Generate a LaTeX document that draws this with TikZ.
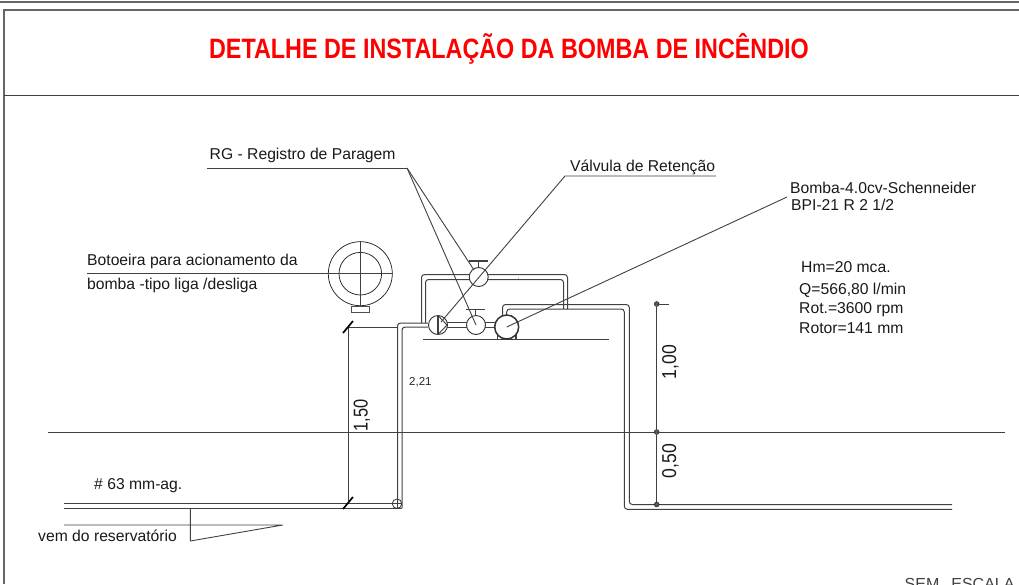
\documentclass[tikz,border=0pt]{standalone}
\usepackage{fontspec}
\setmainfont{Liberation Sans}
\begin{document}
\begin{tikzpicture}[x=1pt,y=-1pt,
  thinln/.style={line width=0.9pt,black!75},
  pipe/.style={line width=1pt,black!75,rounded corners=3pt},
  frameln/.style={line width=1.1pt,black!60},
  lab/.style={inner sep=0pt,anchor=base west,text=black!90,font=\fontsize{15.7}{17}\selectfont},
  dimtxt/.style={inner sep=0pt,rotate=90,anchor=base,text=black!90,font=\fontsize{20}{21}\selectfont},
  valve/.style={circle,draw=black!80,line width=0.9pt,fill=white,inner sep=0pt,minimum size=19pt},
  dimdot/.style={circle,fill=black!65,draw=black,line width=0.3pt,inner sep=0pt,minimum size=5pt},
]
\path[use as bounding box] (0,0) rectangle (1019,584);
\clip (0,0) rectangle (1019,584);
% frame
\draw[frameln,line width=1.4pt] (0,2) -- (1019,2);
\draw[frameln] (1019,10) -- (4,10) -- (4,584);
\draw[line width=1pt,black!75] (4,95.5) -- (1019,95.5);
\node[inner sep=0pt,text=red,font=\bfseries\fontsize{28}{30}\selectfont] (title) at (509,49) {\scalebox{.834}[1]{DETALHE DE INSTALAÇÃO DA BOMBA DE INCÊNDIO}};

% ground
\coordinate (gl) at (48,432); \coordinate (gr) at (1005,432);
\draw[thinln] (gl) -- (gr);

% suction
\draw[pipe] (64,503.5) -- (397.5,503.5);
\draw[pipe] (64,508) -- (402,508);
\draw[pipe] (402,508) -- (402,327) -- (428,327);
\draw[pipe] (397.5,503.5) -- (397.5,323) -- (428,323);
\node[circle,draw=black!80,line width=0.8pt,minimum size=9.5pt,inner sep=0pt] (elbow) at (397,503.7) {};
\draw[thinln] (elbow.west) -- (elbow.east) (elbow.north) -- (elbow.south);

% bypass
\draw[pipe] (421.5,323) -- (421.5,274.5) -- (567.5,274.5) -- (567.5,309);
\draw[pipe] (425.5,323) -- (425.5,279.5) -- (563.5,279.5) -- (563.5,309);
\fill[black!60] (518.6,278) circle (0.6pt);
% discharge
\draw[pipe] (502.5,318) -- (502.5,304.5) -- (629.3,304.5) -- (629.3,504.5) -- (952,504.5);
\draw[pipe] (506.7,318) -- (506.7,309) -- (624.3,309) -- (624.3,509.3) -- (952,509.3);
% between valves
\draw[pipe] (445,322.7) -- (497,322.7) (445,327.3) -- (497,327.3);
% base
\coordinate (bl) at (423,339.5); \coordinate (br) at (609,339.5);
\draw[thinln] (bl) -- (br);
% valves
\node[valve] (vtop) at (478.7,277) {};
\draw[thinln,line width=1.1pt] (478.7,267) -- (478.7,261.5);
\draw[thinln,line width=1.5pt] (469.3,261) -- (488,261);
\node[valve] (vcheck) at (438,325) {};
\draw[thinln,line width=1.1pt] (438,315.5) -- (438,334.5);
\draw[thinln] (438,315.5) -- (447,325) -- (438,334.5);
\node[valve] (vgate) at (476,325) {};
\draw[thinln,line width=1.1pt] (475.5,315) -- (475.5,310);
\draw[thinln,line width=1.5pt] (466,309.7) -- (485,309.7);
\draw[thinln,line width=1.1pt] (497.5,333) -- (497.5,339.5) (516,333) -- (516,339.5);
\node[valve,minimum size=24pt,line width=1.5pt] (pump) at (506.7,327) {};

% button
\node[circle,draw=black!85,line width=0.75pt,minimum size=64pt,inner sep=0pt] (bo) at (360.3,273.7) {};
\node[circle,draw=black!85,line width=0.75pt,minimum size=42.6pt,inner sep=0pt] (bi) at (360.3,273.7) {};
\draw[thinln] (bo.north) -- (bo.south);
\node[draw=black!70,line width=0.8pt,minimum width=17.6pt,minimum height=6.3pt,inner sep=0pt,anchor=north] (bb) at (360.5,306) {};
\coordinate (bl1) at (87,273.7);
\draw[thinln] (bl1) -- (bo.east);
\node[lab] (t1) at (87,265) {Botoeira para acionamento da};
\node[lab] (t2) at (87,289) {bomba -tipo liga /desliga};

% RG
\coordinate (rga) at (207,168); \coordinate (rgb) at (407,168);
\draw[thinln] (rga) -- (rgb);
\draw[thinln] (rgb) -- (474,270);
\draw[thinln] (rgb) -- (476,325);
\node[lab] (t3) at (209.5,159) {RG - Registro de Paragem};
% retencao
\coordinate (ra) at (565,176); \coordinate (rb) at (716,176);
\draw[thinln] (rb) -- (ra) -- (441,322);
\node[lab] (t4) at (570,171) {Válvula de Retenção};
% bomba
\coordinate (ba) at (787,197);
\draw[thinln] (ba) -- (pump.center);
\node[lab] (t5) at (790,193) {Bomba-4.0cv-Schenneider};
\node[lab] (t6) at (791,210) {BPI-21 R 2 1/2};
% data
\node[lab] (t7) at (801,272) {Hm=20 mca.};
\node[lab] (t8) at (799,294) {Q=566,80 l/min};
\node[lab] (t9) at (799,313) {Rot.=3600 rpm};
\node[lab] (t10) at (799,333) {Rotor=141 mm};

% dimensions
\coordinate (d1a) at (348,327); \coordinate (d1b) at (348,503.5);
\draw[thinln] (d1a) -- (d1b);
\draw[thinln] (d1a) -- (397.5,327);
\draw[line width=1.7pt,black] (343,333) -- (353,321);
\draw[line width=1.7pt,black] (343,509) -- (353,497);
\node[dimtxt] (d150) at (367.5,415.5) {\scalebox{.82}[1]{1,50}};
\node[dimdot] (d1) at (656.7,304) {};
\node[dimdot] (d2) at (656.7,432) {};
\node[dimdot] (d3) at (656.7,504.5) {};
\draw[thinln] (d1) -- (d2) -- (d3);
\draw[thinln] (d1) -- (669,304);
\draw[thinln] (d2) -- (670,432);
\node[dimtxt] (d100) at (676,362) {\scalebox{.88}[1]{1,00}};
\node[dimtxt] (d050) at (676,461) {\scalebox{.88}[1]{0,50}};
\node[inner sep=0pt,anchor=base west,text=black!85,font=\fontsize{11.5}{12}\selectfont] (t221) at (409,385) {2,21};

% reservoir label
\coordinate (la) at (64,525); \coordinate (lb) at (282.7,525);
\coordinate (lc) at (190.3,541); \coordinate (ld) at (190.3,508);
\draw[thinln] (la) -- (lb) -- (lc) -- (ld);
\node[lab] (t11) at (94,489) {\# 63 mm-ag.};
\node[lab] (t12) at (38,541) {vem do reservatório};
\node[inner sep=0pt,anchor=base west,text=black!75,font=\fontsize{16}{18}\selectfont] (t13) at (904.5,589) {SEM\hspace{12pt}ESCALA};
\end{tikzpicture}
\end{document}
